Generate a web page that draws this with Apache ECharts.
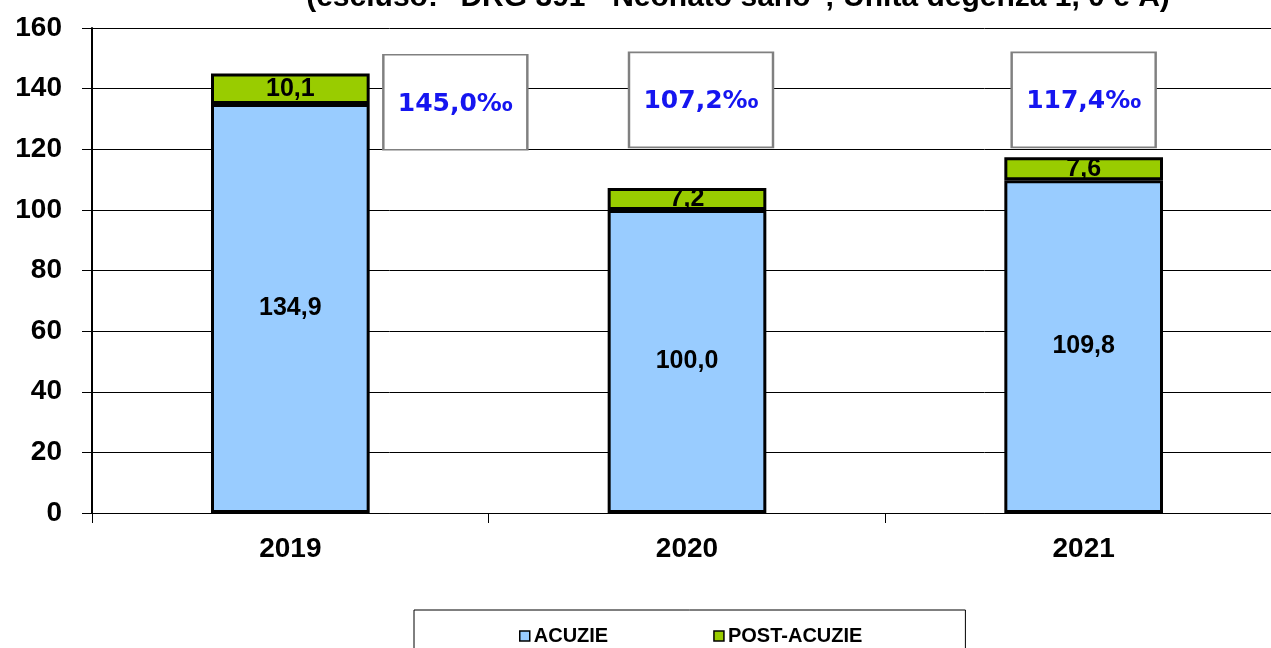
<!DOCTYPE html>
<html>
<head>
<meta charset="utf-8">
<script src="https://cdn.jsdelivr.net/npm/echarts@6/dist/echarts.min.js"></script>
<style>
  html, body { margin: 0; padding: 0; background: #fff; overflow: hidden; }
  #main { width: 1282px; height: 648px; }
</style>
</head>
<body>
<div id="main"></div>
<script>
// dati del grafico
const anni = ['2019', '2020', '2021'];
const acuzie = [134.9, 100.0, 109.8];
const postAcuzie = [10.1, 7.2, 7.6];
const totali = ['145,0‰', '107,2‰', '117,4‰'];
// posizione verticale dei riquadri (valore asse y)
const riquadriY = [135.5, 136.3, 136.3];
const yTicks = [0, 20, 40, 60, 80, 100, 120, 140, 160];

const fmt = v => v.toFixed(1).replace('.', ',');
// spostamento orizzontale dei riquadri rispetto alla categoria
const offsets = [165, 14, 0];

let chart = echarts.init(document.getElementById('main'));
let option = {
  backgroundColor: '#fff',
  animation: false,
  title: {
    text: '(escluso: "DRG 391 - Neonato sano"; Unità degenza 1, 0 e A)',
    left: 733,
    textAlign: 'center',
    top: -22,
    textStyle: { fontFamily: 'Liberation Sans', fontWeight: 'bold', fontSize: 30, color: '#000' }
  },
  grid: { left: 92, right: 0, top: 28, bottom: 135, containLabel: false },
  legend: {
    data: ['ACUZIE', 'POST-ACUZIE'],
    left: 414,
    top: 610,
    padding: [16, 103, 20, 105],
    itemGap: 105,
    itemWidth: 10,
    itemHeight: 10,
    icon: 'rect',
    borderColor: '#000',
    borderWidth: 1,
    itemStyle: { borderColor: '#000', borderWidth: 1.5 },
    textStyle: { fontFamily: 'Liberation Sans', fontWeight: 'bold', fontSize: 20, color: '#000', padding: [0, 0, 0, -1] }
  },
  xAxis: {
    type: 'category',
    data: anni,
    axisLine: { lineStyle: { color: '#000', width: 1 } },
    axisTick: { show: true, length: 10, lineStyle: { color: '#000' } },
    axisLabel: { margin: 22, fontFamily: 'Liberation Sans', fontWeight: 'bold', fontSize: 28, color: '#000' }
  },
  yAxis: {
    type: 'value',
    min: 0,
    max: yTicks[yTicks.length - 1],
    interval: 20,
    axisLine: { show: true, lineStyle: { color: '#000', width: 2 } },
    axisTick: { show: true, length: 10, lineStyle: { color: '#000' } },
    splitLine: { lineStyle: { color: '#000', width: 1 } },
    axisLabel: { margin: 30, fontFamily: 'Liberation Sans', fontWeight: 'bold', fontSize: 28, color: '#000' }
  },
  series: [
    {
      name: 'ACUZIE',
      type: 'bar',
      stack: 'tot',
      barWidth: '40%',
      data: acuzie,
      itemStyle: { color: '#99CCFF', borderColor: '#000', borderWidth: 3 },
      label: {
        show: true,
        position: 'inside',
        formatter: p => fmt(p.value),
        fontFamily: 'Liberation Sans',
        fontWeight: 'bold',
        fontSize: 25,
        color: '#000'
      }
    },
    {
      name: 'POST-ACUZIE',
      type: 'bar',
      stack: 'tot',
      data: postAcuzie,
      itemStyle: { color: '#99CC00', borderColor: '#000', borderWidth: 3 },
      label: {
        show: true,
        position: 'inside',
        formatter: p => fmt(p.value),
        fontFamily: 'Liberation Sans',
        fontWeight: 'bold',
        fontSize: 25,
        color: '#000'
      }
    },
    {
      // riquadri con il totale
      name: 'totale',
      type: 'scatter',
      z: 5,
      symbol: 'rect',
      symbolSize: [144, 95],
      data: anni.map((a, i) => ({
        value: [a, riquadriY[i]],
        symbolOffset: [offsets[i], 0]
      })),
      itemStyle: { color: '#fff', borderColor: '#808080', borderWidth: 2, opacity: 1 },
      label: {
        show: true,
        position: 'inside',
        offset: [0, 2],
        formatter: p => totali[p.dataIndex],
        fontFamily: 'DejaVu Sans',
        fontWeight: 'bold',
        fontSize: 25,
        color: '#1515F0'
      },
      emphasis: { disabled: true }
    }
  ]
};
option && chart.setOption(option);
</script>
</body>
</html>
